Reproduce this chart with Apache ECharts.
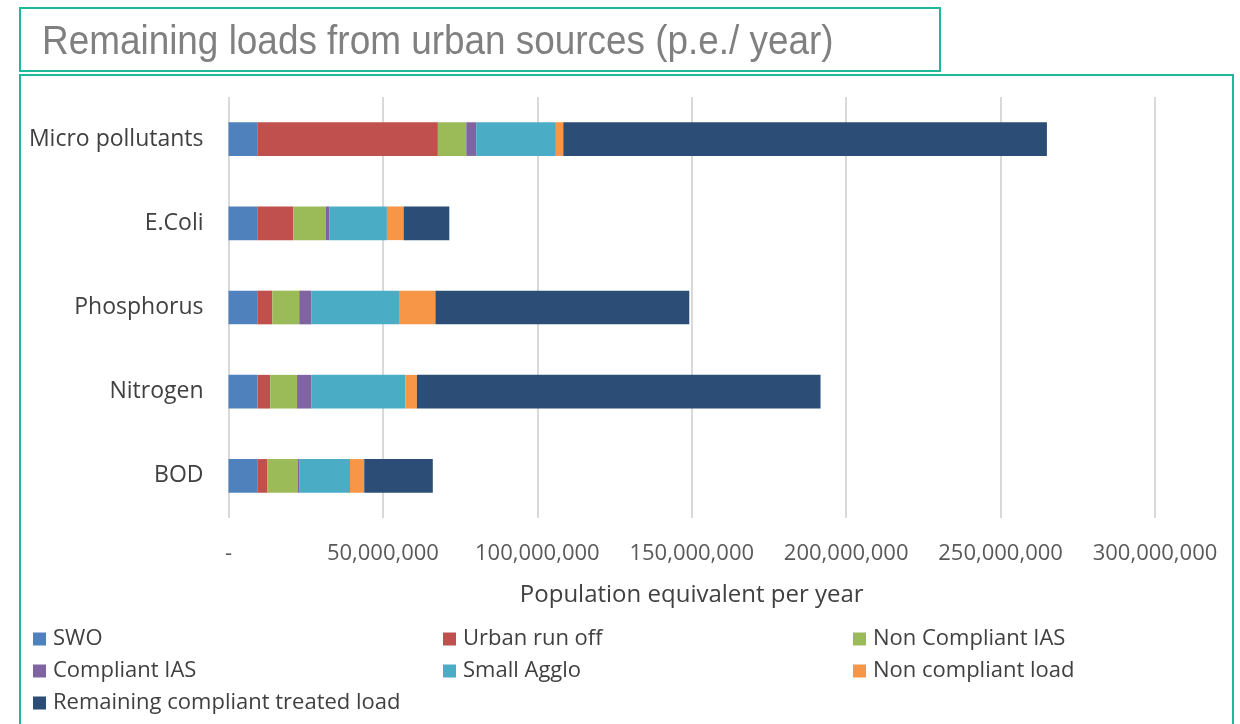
<!DOCTYPE html>
<html>
<head>
    <meta charset="utf-8">
    <title>Remaining loads from urban sources</title>
    <script src="https://cdn.jsdelivr.net/npm/echarts@6/dist/echarts.min.js"></script>
    <style>
        body { margin: 0; background: #fff; }
    </style>
</head>
<body>
<div id="chart" style="width: 1240px; height: 724px;"></div>
<script>
    // categories, bottom to top as ECharts draws them
    var categories = ['BOD', 'Nitrogen', 'Phosphorus', 'E.Coli', 'Micro pollutants'];

    // values in population equivalent per year
    var swo = [9300000, 9400000, 9300000, 9300000, 9300000];
    var urbanRunOff = [3200000, 4100000, 4900000, 11700000, 58500000];
    var nonCompliantIAS = [10000000, 8700000, 8700000, 10500000, 9200000];
    var compliantIAS = [550000, 4700000, 4000000, 1100000, 3200000];
    var smallAgglo = [16300000, 30400000, 28300000, 18700000, 25800000];
    var nonCompliantLoad = [4600000, 3700000, 11800000, 5400000, 2400000];
    var remainingCompliant = [22200000, 130700000, 82200000, 14800000, 156600000];

    var seriesNames = ['SWO', 'Urban run off', 'Non Compliant IAS', 'Compliant IAS',
        'Small Agglo', 'Non compliant load', 'Remaining compliant treated load'];
    var seriesData = [swo, urbanRunOff, nonCompliantIAS, compliantIAS,
        smallAgglo, nonCompliantLoad, remainingCompliant];
    var colors = ['#4f81bd', '#c0504d', '#9bbb59', '#8064a2', '#4bacc6', '#f79646', '#2c4d75'];

    var teal = '#1db99a';
    var font = 'Open Sans';

    function withCommas(v) {
        if (v === 0) return '-';
        return String(v).replace(/\B(?=(\d{3})+(?!\d))/g, ',');
    }

    var series = seriesNames.map(function (name, i) {
        return {
            name: name,
            type: 'bar',
            stack: 'total',
            barWidth: '40%',
            itemStyle: { color: colors[i] },
            data: seriesData[i]
        };
    });

    // legend laid out in three columns like the original
    function legendColumn(left, names) {
        return {
            orient: 'vertical',
            left: left,
            top: 628,
            padding: 0,
            itemWidth: 13,
            itemHeight: 13,
            itemGap: 10,
            icon: 'rect',
            textStyle: { fontFamily: font, fontSize: 22, color: '#404040', padding: [0, 0, 0, 2] },
            data: names
        };
    }

    var chart = echarts.init(document.getElementById('chart'));
    chart.setOption({
        animation: false,
        graphic: [
            { type: 'rect', shape: { x: 20, y: 8, width: 920, height: 63 },
              style: { fill: 'none', stroke: teal, lineWidth: 2 } },
            { type: 'rect', shape: { x: 20, y: 75, width: 1213, height: 680 },
              style: { fill: 'none', stroke: teal, lineWidth: 2 } },
            // title is a narrow face in the original, so squeeze it a little
            { type: 'text', x: 42, y: 22, scaleX: 0.9,
              style: { text: 'Remaining loads from urban sources (p.e./ year)',
                       fontFamily: 'Liberation Sans', fontSize: 41, fill: '#808080',
                       verticalAlign: 'top' } }
        ],
        legend: [
            legendColumn(33, ['SWO', 'Compliant IAS', 'Remaining compliant treated load']),
            legendColumn(443, ['Urban run off', 'Small Agglo']),
            legendColumn(853, ['Non Compliant IAS', 'Non compliant load'])
        ],
        grid: { left: 228.5, right: 85, top: 97, bottom: 206 },
        xAxis: {
            type: 'value',
            min: 0,
            max: 300000000,
            interval: 50000000,
            name: 'Population equivalent per year',
            nameLocation: 'middle',
            nameGap: 65,
            nameTextStyle: { fontFamily: font, fontSize: 24, color: '#404040' },
            axisLine: { show: false },
            axisTick: { show: false },
            axisLabel: { formatter: withCommas, margin: 25, fontFamily: font, fontSize: 22, color: '#595959' },
            splitLine: { lineStyle: { color: '#d9d9d9', width: 2 } }
        },
        yAxis: {
            type: 'category',
            data: categories,
            axisLine: { show: false },
            axisTick: { show: false },
            axisLabel: { margin: 25, fontFamily: font, fontSize: 23, color: '#404040' }
        },
        series: series
    });
</script>
</body>
</html>
